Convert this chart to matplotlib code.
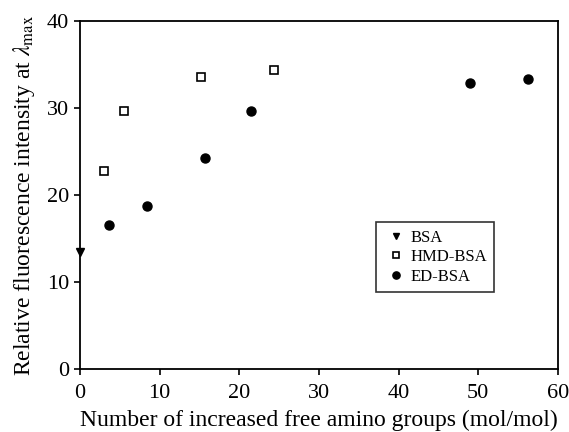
import matplotlib
matplotlib.use('Agg')
import matplotlib.pyplot as plt

plt.rcParams['font.family'] = ['Liberation Serif', 'DejaVu Serif']
plt.rcParams['mathtext.fontset'] = 'stix'

# Data
bsa_x = [0.0]
bsa_y = [13.5]

hmd_x = [3.0, 5.5, 15.2, 24.4]
hmd_y = [22.8, 29.7, 33.6, 34.4]

ed_x = [3.7, 8.4, 15.75, 21.5, 49.0, 56.3]
ed_y = [16.6, 18.7, 24.3, 29.7, 32.9, 33.3]

xticks = [0, 10, 20, 30, 40, 50, 60]
yticks = [0, 10, 20, 30, 40]

fig = plt.figure(figsize=(5.69, 4.32), dpi=100)
ax = fig.add_axes([0.1406, 0.1458, 0.840, 0.8056])

ax.plot(bsa_x, bsa_y, linestyle='none', marker='v', color='black',
        markersize=6, label='BSA', clip_on=False, zorder=5)
ax.plot(hmd_x, hmd_y, linestyle='none', marker='s', markerfacecolor='white',
        markeredgecolor='black', markeredgewidth=1.2, markersize=6, label='HMD-BSA')
ax.plot(ed_x, ed_y, linestyle='none', marker='o', color='black',
        markersize=6.5, label='ED-BSA')

ax.set_xlim(0, 60)
ax.set_ylim(0, 40)
ax.set_xticks(xticks)
ax.set_yticks(yticks)
ax.tick_params(direction='out', length=4, width=1.2, labelsize=16)
ax.tick_params(axis='x', pad=7)
ax.tick_params(axis='y', pad=4)
for s in ax.spines.values():
    s.set_linewidth(1.3)

ax.set_xlabel('Number of increased free amino groups (mol/mol)', fontsize=17, labelpad=5)
ax.set_ylabel(r'Relative fluorescence intensity at $\lambda_{\mathrm{max}}$', fontsize=17, labelpad=7)

leg = ax.legend(loc='upper left', bbox_to_anchor=(0.619, 0.4224), fontsize=12,
                frameon=True, fancybox=False, edgecolor='black', handlelength=1.5,
                handletextpad=0.1, borderpad=0.45, labelspacing=0.22, markerscale=0.8,
                borderaxespad=0)
leg.get_frame().set_linewidth(1.2)

fig.savefig('out.png', dpi=100)
